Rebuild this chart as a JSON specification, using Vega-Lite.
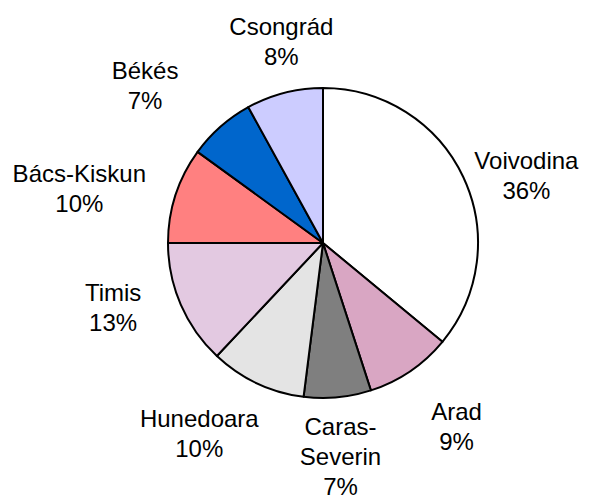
{
  "$schema": "https://vega.github.io/schema/vega-lite/v6.json",
  "width": 300,
  "height": 300,
  "autosize": "none",
  "padding": {"left": 173, "top": 93, "right": 124, "bottom": 111},
  "background": "white",
  "data": {
    "values": [
      {"k": 1, "name": "Voivodina", "value": 36},
      {"k": 2, "name": "Arad", "value": 9},
      {"k": 3, "name": "Caras-\nSeverin", "value": 7},
      {"k": 4, "name": "Hunedoara", "value": 10},
      {"k": 5, "name": "Timis", "value": 13},
      {"k": 6, "name": "Bács-Kiskun", "value": 10},
      {"k": 7, "name": "Békés", "value": 7},
      {"k": 8, "name": "Csongrád", "value": 8}
    ]
  },
  "transform": [
    {"calculate": "datum.name + '\\n' + datum.value + '%'", "as": "label"}
  ],
  "encoding": {
    "theta": {"field": "value", "type": "quantitative", "stack": true},
    "order": {"field": "k", "type": "quantitative"}
  },
  "layer": [
    {
      "mark": {"type": "arc", "outerRadius": 155, "stroke": "black", "strokeWidth": 2, "strokeJoin": "round"},
      "encoding": {
        "color": {
          "field": "name",
          "type": "nominal",
          "legend": null,
          "scale": {
            "domain": ["Voivodina", "Arad", "Caras-\nSeverin", "Hunedoara", "Timis", "Bács-Kiskun", "Békés", "Csongrád"],
            "range": ["#FFFFFF", "#D9A6C3", "#7F7F7F", "#E4E4E4", "#E3C9E1", "#FF8080", "#0066CC", "#CCCCFF"]
          }
        }
      }
    },
    {
      "mark": {"type": "text", "radius": 219, "thetaOffset": 0.06, "font": "Liberation Sans", "fontSize": 24, "lineHeight": 30, "lineBreak": "\n", "align": "center", "baseline": "middle", "color": "black"},
      "encoding": {
        "text": {"condition": {"test": "indexof([1, 8], datum.k) >= 0", "field": "label"}, "value": ""}
      }
    },
    {
      "mark": {"type": "text", "radius": 216, "thetaOffset": -0.07, "font": "Liberation Sans", "fontSize": 24, "lineHeight": 30, "lineBreak": "\n", "align": "center", "baseline": "middle", "color": "black"},
      "encoding": {
        "text": {"condition": {"test": "datum.k === 2", "field": "label"}, "value": ""}
      }
    },
    {
      "mark": {"type": "text", "radius": 216, "thetaOffset": 0.17, "font": "Liberation Sans", "fontSize": 24, "lineHeight": 30, "lineBreak": "\n", "align": "center", "baseline": "middle", "color": "black"},
      "encoding": {
        "text": {"condition": {"test": "indexof([4, 5], datum.k) >= 0", "field": "label"}, "value": ""}
      }
    },
    {
      "mark": {"type": "text", "radius": 253, "thetaOffset": -0.042, "font": "Liberation Sans", "fontSize": 24, "lineHeight": 30, "lineBreak": "\n", "align": "center", "baseline": "middle", "color": "black"},
      "encoding": {
        "text": {"condition": {"test": "datum.k === 6", "field": "label"}, "value": ""}
      }
    },
    {
      "mark": {"type": "text", "radius": 247, "thetaOffset": -0.082, "font": "Liberation Sans", "fontSize": 24, "lineHeight": 30, "lineBreak": "\n", "align": "center", "baseline": "middle", "color": "black"},
      "encoding": {
        "text": {"condition": {"test": "datum.k === 7", "field": "label"}, "value": ""}
      }
    },
    {
      "mark": {"type": "text", "radius": 186, "font": "Liberation Sans", "fontSize": 24, "lineHeight": 30, "lineBreak": "\n", "align": "center", "baseline": "middle", "color": "black"},
      "encoding": {
        "text": {"condition": {"test": "datum.k === 3", "field": "label"}, "value": ""}
      }
    }
  ],
  "config": {"view": {"stroke": null}}
}
